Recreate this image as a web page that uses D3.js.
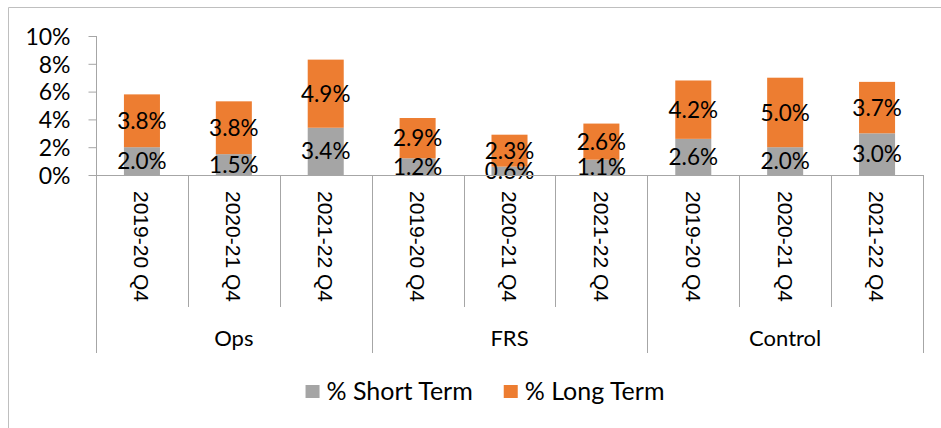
<!DOCTYPE html>
<html>
<head>
<meta charset="utf-8">
<script src="https://cdn.jsdelivr.net/npm/d3@7"></script>
<style>
  body { margin: 0; background: #fff; }
  svg { display: block; font-family: Lato, "Open Sans", sans-serif; }
  text { fill: #000; }
</style>
</head>
<body>
<div id="chart"></div>
<script>
// chart values
var groups = ["Ops", "FRS", "Control"];
var periods = ["2019-20 Q4", "2020-21 Q4", "2021-22 Q4"];
var shortTerm = [2.0, 1.5, 3.4, 1.2, 0.6, 1.1, 2.6, 2.0, 3.0];
var longTerm = [3.8, 3.8, 4.9, 2.9, 2.3, 2.6, 4.2, 5.0, 3.7];
var yTicks = [0, 2, 4, 6, 8, 10];
var seriesNames = ["% Short Term", "% Long Term"];
var seriesColors = ["#a5a5a5", "#ed7d31"];

var width = 941, height = 428;
var axisColor = "#a6a6a6";

// one row per bar
var rows = [];
groups.forEach(function(g, gi) {
    periods.forEach(function(p, pi) {
        var i = gi * periods.length + pi;
        rows.push({ key: g + "|" + p, group: g, period: p, s: shortTerm[i], l: longTerm[i] });
    });
});

var svg = d3.select("#chart")
    .append("svg")
    .attr("width", width)
    .attr("height", height);

// outer chart frame (left and top edges visible)
svg.append("path")
    .attr("d", "M8.5," + height + "V7.5H" + width)
    .attr("fill", "none")
    .attr("stroke", "#bfbfbf")
    .attr("stroke-width", 1);

var xScale = d3.scaleBand()
    .domain(rows.map(function(d) { return d.key; }))
    .range([96, 923])
    .paddingInner(0.608)
    .paddingOuter(0.304);

var yScale = d3.scaleLinear()
    .domain([0, 10])
    .range([175, 36]);

// y axis
var yAxis = svg.append("g")
    .attr("transform", "translate(96.5,0)")
    .call(d3.axisLeft(yScale)
        .tickValues(yTicks)
        .tickSize(8)
        .tickPadding(18)
        .tickFormat(function(d) { return d + "%"; }));
yAxis.attr("font-family", null);
yAxis.select(".domain").attr("stroke", axisColor).attr("d", "M0," + yScale(10) + "V" + yScale(0));
yAxis.selectAll(".tick line").attr("stroke", axisColor);
yAxis.selectAll(".tick text")
    .attr("font-size", 23)
    .attr("fill", "#000")
    .attr("dy", "0.36em");

// stacked bars
var bars = svg.append("g").attr("id", "bars");
bars.selectAll("rect.short")
    .data(rows)
    .enter()
    .append("rect")
    .attr("class", "short")
    .attr("x", function(d) { return xScale(d.key); })
    .attr("width", xScale.bandwidth())
    .attr("y", function(d) { return yScale(d.s); })
    .attr("height", function(d) { return yScale(0) - yScale(d.s); })
    .attr("fill", seriesColors[0]);

bars.selectAll("rect.long")
    .data(rows)
    .enter()
    .append("rect")
    .attr("class", "long")
    .attr("x", function(d) { return xScale(d.key); })
    .attr("width", xScale.bandwidth())
    .attr("y", function(d) { return yScale(d.s + d.l); })
    .attr("height", function(d) { return yScale(d.s) - yScale(d.s + d.l); })
    .attr("fill", seriesColors[1]);

// data labels, centred in each segment
var labels = svg.append("g").attr("id", "labels")
    .attr("font-size", 22.5)
    .attr("text-anchor", "middle");
labels.selectAll("text.short")
    .data(rows)
    .enter()
    .append("text")
    .attr("x", function(d) { return xScale(d.key) + xScale.bandwidth() / 2; })
    .attr("y", function(d) { return yScale(d.s / 2); })
    .attr("dy", "0.36em")
    .text(function(d) { return d.s.toFixed(1) + "%"; });
labels.selectAll("text.long")
    .data(rows)
    .enter()
    .append("text")
    .attr("x", function(d) { return xScale(d.key) + xScale.bandwidth() / 2; })
    .attr("y", function(d) { return yScale(d.s + d.l / 2); })
    .attr("dy", "0.36em")
    .text(function(d) { return d.l.toFixed(1) + "%"; });

// x axis: baseline, separators, rotated period labels, group labels
var step = xScale.step();
var xAxis = svg.append("g").attr("id", "xaxis");
xAxis.append("line")
    .attr("x1", 96).attr("x2", 923)
    .attr("y1", 175.5).attr("y2", 175.5)
    .attr("stroke", axisColor);

var bounds = d3.range(rows.length + 1);
xAxis.selectAll("line.sep")
    .data(bounds)
    .enter()
    .append("line")
    .attr("class", "sep")
    .attr("x1", function(i) { return Math.round(96 + i * step) + 0.5; })
    .attr("x2", function(i) { return Math.round(96 + i * step) + 0.5; })
    .attr("y1", 175)
    .attr("y2", function(i) { return i % periods.length === 0 ? 353 : 307; })
    .attr("stroke", axisColor);

xAxis.selectAll("text.period")
    .data(rows)
    .enter()
    .append("text")
    .attr("class", "period")
    .attr("transform", function(d) {
        return "translate(" + (xScale(d.key) + xScale.bandwidth() / 2) + ",191) rotate(90)";
    })
    .style("font-family", "'Liberation Sans', Arial, sans-serif")
    .attr("font-size", 21)
    .attr("dy", "0.36em")
    .text(function(d) { return d.period; });

xAxis.selectAll("text.group")
    .data(groups)
    .enter()
    .append("text")
    .attr("class", "group")
    .attr("x", function(g, gi) { return 96 + (gi + 0.5) * periods.length * step; })
    .attr("y", 338)
    .attr("dy", "0.36em")
    .attr("text-anchor", "middle")
    .attr("font-size", 22)
    .text(function(g) { return g; });

// legend
var legend = svg.append("g").attr("id", "legend");
var items = legend.selectAll("g")
    .data(seriesNames)
    .enter()
    .append("g");
items.append("rect")
    .attr("width", 14)
    .attr("height", 13)
    .attr("y", 385)
    .attr("fill", function(d, i) { return seriesColors[i]; });
items.append("text")
    .attr("x", 21)
    .attr("y", 391)
    .attr("dy", "0.36em")
    .attr("font-size", 25)
    .text(function(d) { return d; });

var widths = [];
items.each(function() {
    widths.push(21 + d3.select(this).select("text").node().getComputedTextLength());
});
var gap = 31;
var total = d3.sum(widths) + gap * (widths.length - 1);
var cx = 485 - total / 2;
items.attr("transform", function(d, i) {
    var x = cx;
    cx += widths[i] + gap;
    return "translate(" + x + ",0)";
});
</script>
</body>
</html>
